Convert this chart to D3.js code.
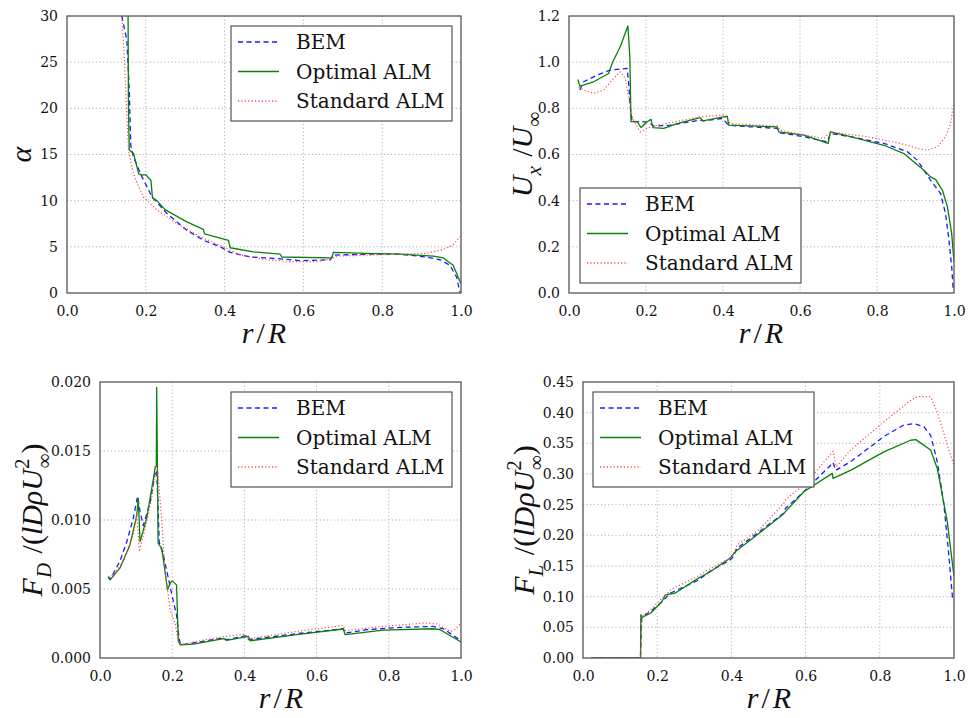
<!DOCTYPE html>
<html>
<head>
<meta charset="utf-8">
<script src="https://cdn.jsdelivr.net/npm/d3@7"></script>
<style>
  body { margin: 0; background: #fff; }
  svg { display: block; }
  text { font-family: "DejaVu Serif", serif; fill: #111; }
</style>
</head>
<body>
<svg id="fig" width="968" height="718"></svg>
<script>
// ---- shared axis data ----
const rTicks = [0.0, 0.2, 0.4, 0.6, 0.8, 1.0];
const seriesNames = ["BEM", "Optimal ALM", "Standard ALM"];

// ---- angle of attack (alpha) vs r/R ----
const alphaTicks = [0, 5, 10, 15, 20, 25, 30];
const alphaBEM = [[0.139,30],[0.152,27.4],[0.158,22],[0.162,15.9],[0.169,14.7],[0.19,12.6],[0.216,10.4],[0.254,8.6],[0.304,6.8],[0.347,5.7],[0.389,5.0],[0.414,4.4],[0.465,3.9],[0.541,3.7],[0.592,3.5],[0.668,3.6],[0.676,4.1],[0.761,4.2],[0.845,4.2],[0.913,3.9],[0.947,3.6],[0.972,3.0],[0.989,1.7],[0.997,0.1]];
const alphaOpt = [[0.155,30],[0.156,20],[0.158,15.5],[0.169,15.1],[0.182,12.9],[0.19,12.8],[0.2,12.8],[0.213,12.2],[0.217,10.3],[0.228,10.0],[0.25,9.0],[0.304,7.7],[0.346,6.9],[0.349,6.4],[0.41,5.7],[0.414,4.9],[0.473,4.45],[0.541,4.2],[0.545,3.9],[0.672,3.8],[0.676,4.4],[0.761,4.3],[0.845,4.2],[0.93,4.0],[0.955,3.8],[0.98,3.0],[0.993,1.7],[1.0,1.0]];
const alphaStd = [[0.139,30],[0.145,26],[0.15,21],[0.156,15.5],[0.168,13],[0.178,11.9],[0.194,10.4],[0.228,9.0],[0.279,7.5],[0.338,6.1],[0.406,4.8],[0.44,4.1],[0.507,3.6],[0.566,3.4],[0.634,3.4],[0.672,3.7],[0.685,4.0],[0.761,4.1],[0.845,4.2],[0.913,4.3],[0.955,4.7],[0.98,5.2],[1.0,6.25]];

// ---- axial velocity Ux/Uinf vs r/R ----
const uxTicks = [0.0, 0.2, 0.4, 0.6, 0.8, 1.0, 1.2];
const uxBEM = [[0.028,0.879],[0.038,0.915],[0.073,0.944],[0.107,0.966],[0.151,0.973],[0.155,0.908],[0.159,0.807],[0.164,0.742],[0.194,0.742],[0.211,0.734],[0.22,0.723],[0.263,0.727],[0.341,0.749],[0.35,0.746],[0.398,0.756],[0.415,0.727],[0.471,0.72],[0.541,0.713],[0.549,0.694],[0.61,0.677],[0.671,0.655],[0.679,0.691],[0.731,0.677],[0.818,0.648],[0.879,0.612],[0.905,0.575],[0.939,0.489],[0.965,0.431],[0.978,0.344],[0.987,0.228],[0.994,0.113],[0.998,0.012]];
const uxOpt = [[0.023,0.925],[0.028,0.896],[0.064,0.915],[0.103,0.951],[0.112,0.995],[0.133,1.067],[0.146,1.125],[0.153,1.157],[0.158,1.024],[0.161,0.742],[0.177,0.742],[0.187,0.717],[0.203,0.742],[0.213,0.752],[0.218,0.716],[0.246,0.713],[0.281,0.734],[0.341,0.760],[0.348,0.746],[0.411,0.766],[0.415,0.727],[0.541,0.72],[0.545,0.698],[0.61,0.684],[0.673,0.648],[0.679,0.698],[0.731,0.677],[0.818,0.64],[0.87,0.604],[0.896,0.568],[0.922,0.532],[0.939,0.503],[0.952,0.492],[0.97,0.445],[0.983,0.373],[0.994,0.257],[1.0,0.134]];
const uxStd = [[0.025,0.893],[0.038,0.879],[0.064,0.865],[0.09,0.879],[0.116,0.93],[0.133,0.958],[0.146,0.93],[0.155,0.85],[0.164,0.763],[0.177,0.72],[0.185,0.698],[0.203,0.713],[0.229,0.727],[0.298,0.749],[0.341,0.763],[0.402,0.771],[0.419,0.734],[0.541,0.723],[0.549,0.705],[0.662,0.669],[0.679,0.698],[0.775,0.677],[0.861,0.648],[0.905,0.626],[0.931,0.619],[0.957,0.633],[0.978,0.677],[0.991,0.734],[1.0,0.828]];

// ---- drag force F_D vs r/R ----
const fdTicks = [0.000, 0.005, 0.010, 0.015, 0.020];
const fdBEM = [[0.023,0.0059],[0.028,0.0057],[0.055,0.0070],[0.074,0.0084],[0.092,0.0101],[0.104,0.0117],[0.111,0.0106],[0.12,0.0096],[0.139,0.0113],[0.152,0.0133],[0.157,0.0136],[0.16,0.0116],[0.164,0.0084],[0.175,0.0075],[0.185,0.0063],[0.199,0.0046],[0.212,0.0031],[0.219,0.00145],[0.223,0.00096],[0.24,0.00101],[0.295,0.00125],[0.342,0.00145],[0.351,0.00133],[0.402,0.00161],[0.411,0.00133],[0.545,0.00176],[0.674,0.00212],[0.679,0.00181],[0.739,0.00205],[0.831,0.00222],[0.923,0.00229],[0.951,0.00212],[1.0,0.00125]];
const fdOpt = [[0.023,0.00583],[0.028,0.00566],[0.055,0.00651],[0.083,0.00819],[0.102,0.01036],[0.106,0.01157],[0.111,0.00843],[0.129,0.0101],[0.148,0.013],[0.153,0.01386],[0.156,0.0139],[0.157,0.0196],[0.159,0.0140],[0.161,0.0083],[0.171,0.00795],[0.18,0.00627],[0.187,0.00494],[0.194,0.00542],[0.2,0.00559],[0.212,0.0053],[0.217,0.0012],[0.223,0.00096],[0.259,0.00101],[0.342,0.0014],[0.351,0.00128],[0.411,0.00157],[0.416,0.00125],[0.545,0.00169],[0.674,0.0021],[0.679,0.00169],[0.785,0.00202],[0.923,0.00212],[0.942,0.00205],[1.0,0.00116]];
const fdStd = [[0.023,0.0059],[0.037,0.00602],[0.065,0.00699],[0.092,0.00892],[0.102,0.01036],[0.109,0.00771],[0.125,0.0094],[0.143,0.01157],[0.155,0.01386],[0.159,0.0138],[0.171,0.0100],[0.18,0.0064],[0.194,0.0035],[0.208,0.0025],[0.217,0.0012],[0.222,0.00096],[0.295,0.00133],[0.342,0.00154],[0.402,0.00173],[0.411,0.0014],[0.545,0.00193],[0.674,0.00236],[0.679,0.00198],[0.785,0.00229],[0.896,0.00253],[0.933,0.00248],[0.97,0.00193],[0.983,0.00205],[1.0,0.00253]];

// ---- lift force F_L vs r/R ----
const flTicks = [0.00, 0.05, 0.10, 0.15, 0.20, 0.25, 0.30, 0.35, 0.40, 0.45];
const flBEM = [[0.022,0],[0.155,0],[0.158,0.065],[0.162,0.068],[0.182,0.076],[0.209,0.0895],[0.236,0.106],[0.308,0.126],[0.344,0.142],[0.397,0.16],[0.405,0.165],[0.415,0.179],[0.469,0.203],[0.541,0.236],[0.546,0.244],[0.595,0.271],[0.667,0.314],[0.674,0.319],[0.681,0.306],[0.721,0.32],[0.811,0.361],[0.865,0.38],[0.892,0.382],[0.919,0.377],[0.937,0.363],[0.955,0.32],[0.973,0.249],[0.986,0.168],[0.996,0.098]];
const flOpt = [[0.022,0],[0.155,0],[0.156,0.0705],[0.159,0.066],[0.182,0.073],[0.213,0.092],[0.222,0.103],[0.249,0.106],[0.308,0.129],[0.344,0.141],[0.397,0.163],[0.411,0.1735],[0.469,0.2006],[0.537,0.233],[0.595,0.271],[0.672,0.301],[0.674,0.293],[0.721,0.306],[0.811,0.336],[0.883,0.355],[0.897,0.356],[0.937,0.339],[0.955,0.309],[0.982,0.222],[1.0,0.133]];
const flStd = [[0.022,0],[0.155,0],[0.159,0.068],[0.182,0.0786],[0.209,0.0949],[0.236,0.111],[0.308,0.133],[0.353,0.149],[0.402,0.165],[0.415,0.184],[0.478,0.211],[0.541,0.252],[0.546,0.258],[0.604,0.287],[0.674,0.337],[0.683,0.312],[0.721,0.339],[0.811,0.385],[0.883,0.42],[0.901,0.426],[0.937,0.426],[0.955,0.401],[0.982,0.347],[1.0,0.314]];

// ---- line styles for the three methods ----
const lineStyles = [
  { stroke: "#1a1aff", width: 1.3, dash: "5,3.5" },
  { stroke: "#0a800a", width: 1.3, dash: null },
  { stroke: "#ff4848", width: 1.2, dash: "1.2,2.2" }
];

const textFont = "'DejaVu Serif', serif";
const mathFont = "'Liberation Serif', 'Times New Roman', serif";

// ---- math-style labels: pieces of text with italic / sub / sup flags ----
const labelR = [{t:"r", i:1}, {t:"/", dx:3}, {t:"R", i:1, dx:3}];
const labelAlpha = [{t:"α", i:1}];
const labelUx = [{t:"U", i:1}, {t:"x", i:1, sub:1}, {t:" /", dx:2}, {t:"U", i:1}, {t:"∞", sub:1}];
const labelFD = [{t:"F", i:1}, {t:"D", i:1, sub:1}, {t:" /(", dx:2}, {t:"lD", i:1}, {t:"ρ", i:1}, {t:"U", i:1}, {t:"2", sup:1}, {t:"∞", sub:1, back:10}, {t:")"}];
const labelFL = [{t:"F", i:1}, {t:"L", i:1, sub:1}, {t:" /(", dx:2}, {t:"lD", i:1}, {t:"ρ", i:1}, {t:"U", i:1}, {t:"2", sup:1}, {t:"∞", sub:1, back:10}, {t:")"}];

function drawMath(g, parts, size) {
  const t = g.append("text")
    .attr("text-anchor", "middle")
    .style("font-family", mathFont)
    .style("font-size", size + "px");
  let shift = 0;
  parts.forEach(p => {
    let target = 0;
    let fs = size;
    if (p.sub) { target = size * 0.3; fs = size * 0.7; }
    if (p.sup) { target = -size * 0.42; fs = size * 0.7; }
    const ts = t.append("tspan")
      .text(p.t)
      .attr("dy", target - shift)
      .style("font-size", fs + "px")
      .style("font-style", p.i ? "italic" : "normal");
    const dx = (p.dx || 0) - (p.back || 0);
    if (dx) ts.attr("dx", dx);
    shift = target;
  });
  return t;
}

const svg = d3.select("#fig");

const panels = [
  { box: [67, 461, 16, 293], y: [0, 30], ticks: alphaTicks, fmt: d3.format("d"),
    data: [alphaBEM, alphaOpt, alphaStd], legend: [231, 26], ylabel: labelAlpha, ylx: 31, xlc: 264, xlb: 343 },
  { box: [569, 954, 16, 293], y: [0, 1.2], ticks: uxTicks, fmt: d3.format(".1f"),
    data: [uxBEM, uxOpt, uxStd], legend: [580, 188], ylabel: labelUx, ylx: 532, xlc: 761, xlb: 343 },
  { box: [100, 461, 382, 658], y: [0, 0.02], ticks: fdTicks, fmt: d3.format(".3f"),
    data: [fdBEM, fdOpt, fdStd], legend: [231, 392], ylabel: labelFD, ylx: 42, xlc: 281, xlb: 708 },
  { box: [583, 954, 382, 658], y: [0, 0.45], ticks: flTicks, fmt: d3.format(".2f"),
    data: [flBEM, flOpt, flStd], legend: [593, 392], ylabel: labelFL, ylx: 534, xlc: 769, xlb: 708 }
];

panels.forEach((p, k) => {
  const [x0, x1, y0, y1] = p.box;
  const x = d3.scaleLinear().domain([0, 1]).range([x0, x1]);
  const y = d3.scaleLinear().domain(p.y).range([y1, y0]);
  const g = svg.append("g");

  // dotted grid
  const grid = g.append("g").attr("stroke", "#a8a8a8").attr("stroke-width", 0.9)
    .attr("stroke-dasharray", "1.2,2.4");
  rTicks.slice(1, -1).forEach(v => grid.append("line")
    .attr("x1", x(v)).attr("x2", x(v)).attr("y1", y0).attr("y2", y1));
  p.ticks.slice(1, -1).forEach(v => grid.append("line")
    .attr("x1", x0).attr("x2", x1).attr("y1", y(v)).attr("y2", y(v)));

  // curves, clipped to the plot area
  const clipId = "clip" + k;
  svg.append("clipPath").attr("id", clipId).append("rect")
    .attr("x", x0).attr("y", y0).attr("width", x1 - x0).attr("height", y1 - y0);
  const line = d3.line().x(d => x(d[0])).y(d => y(d[1]));
  const curves = g.append("g").attr("clip-path", `url(#${clipId})`);
  p.data.forEach((series, i) => {
    const st = lineStyles[i];
    curves.append("path").datum(series)
      .attr("d", line)
      .attr("fill", "none")
      .attr("stroke", st.stroke)
      .attr("stroke-width", st.width)
      .attr("stroke-linejoin", "round")
      .attr("stroke-dasharray", st.dash);
  });

  // axes (tick labels only; the frame is drawn separately)
  const xAxis = g.append("g").attr("transform", `translate(0,${y1})`)
    .call(d3.axisBottom(x).tickValues(rTicks).tickFormat(d3.format(".1f")).tickSize(0).tickPadding(13));
  const yAxis = g.append("g").attr("transform", `translate(${x0},0)`)
    .call(d3.axisLeft(y).tickValues(p.ticks).tickFormat(p.fmt).tickSize(0).tickPadding(9));
  [xAxis, yAxis].forEach(a => {
    a.attr("font-family", null).attr("font-size", null);
    a.select(".domain").remove();
    a.selectAll("text").style("font-family", textFont).style("font-size", "14px").attr("fill", "#111");
  });

  // frame
  g.append("rect").attr("x", x0).attr("y", y0).attr("width", x1 - x0).attr("height", y1 - y0)
    .attr("fill", "none").attr("stroke", "#555").attr("stroke-width", 1.3);

  // legend
  const [lx, ly] = p.legend;
  const lg = g.append("g").attr("transform", `translate(${lx},${ly})`);
  lg.append("rect").attr("width", 221).attr("height", 95)
    .attr("fill", "#fff").attr("stroke", "#444").attr("stroke-width", 1.1);
  seriesNames.forEach((name, i) => {
    const cy = 16 + i * 29.5;
    const st = lineStyles[i];
    lg.append("line").attr("x1", 7).attr("x2", 48).attr("y1", cy).attr("y2", cy)
      .attr("stroke", st.stroke).attr("stroke-width", st.width + 0.2)
      .attr("stroke-dasharray", st.dash);
    lg.append("text").attr("x", 65).attr("y", cy + 7)
      .style("font-family", textFont)
      .style("font-size", "20px").text(name);
  });

  // axis titles
  const xl = g.append("g").attr("transform", `translate(${p.xlc},${p.xlb})`);
  drawMath(xl, labelR, 30);
  const yl = g.append("g").attr("transform", `translate(${p.ylx},${(y0 + y1) / 2}) rotate(-90)`);
  drawMath(yl, p.ylabel, 30);
});
</script>
</body>
</html>
